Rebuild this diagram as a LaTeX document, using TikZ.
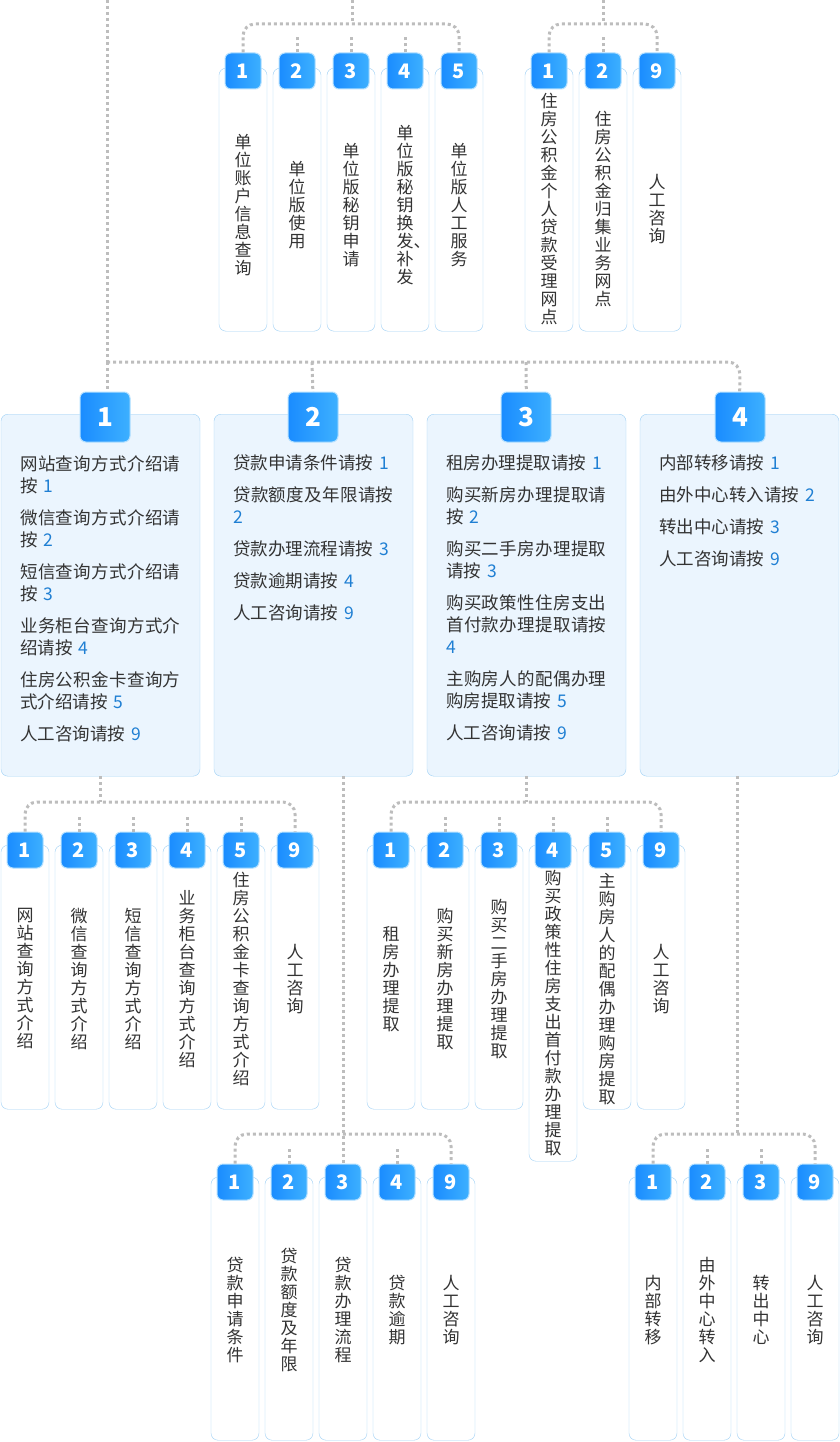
\documentclass[tikz,border=0pt]{standalone}
\usepackage{fontspec}
\setmainfont{Noto Sans CJK SC}
\XeTeXlinebreaklocale "zh"
\XeTeXlinebreakskip=0pt plus 1pt
\usetikzlibrary{positioning}
\definecolor{lineGray}{HTML}{BDBDBD}
\definecolor{boxBorder}{HTML}{9ED0F5}
\definecolor{boxFill}{HTML}{EBF5FE}
\definecolor{badgeL}{HTML}{1A8CFF}
\definecolor{badgeR}{HTML}{3DB0FF}
\definecolor{numBlue}{HTML}{1F7FD3}
\definecolor{txt}{HTML}{333333}
\newcommand{\nb}[1]{\textcolor{numBlue}{#1}}
\begin{document}
\begin{tikzpicture}[x=1pt,y=-1pt,
    link/.style={draw=lineGray,line width=3pt,dash pattern=on 3pt off 3pt,rounded corners=12pt},
    badge/.style={rounded corners=6pt,minimum size=36pt,inner sep=0pt,left color=badgeL,right color=badgeR,
        draw=badgeR!40,line width=1pt,text=white,font=\fontsize{20}{20}\selectfont\bfseries},
    bigbadge/.style={badge,minimum size=50pt,font=\fontsize{26}{26}\selectfont\bfseries},
    col/.style={draw=boxBorder,fill=white,rounded corners=7pt,minimum width=48pt,anchor=north,inner sep=0pt},
    coltext/.style={text width=17pt,align=center,inner sep=0pt,text=txt,font=\fontsize{17}{18}\selectfont},
    mainbox/.style={draw=boxBorder,fill=boxFill,rounded corners=7pt,minimum width=199pt,minimum height=362pt,anchor=north,inner sep=0pt},
    maintext/.style={text width=172pt,align=left,anchor=north west,inner sep=0pt,text=txt,font=\fontsize{17.5}{22}\selectfont}]
    \useasboundingbox (0,0) rectangle (840,1442);

    % trunk and main boxes
    \coordinate (root) at (107,0);
    \coordinate (hub) at (107,362);
    \foreach \n/\x in {1/100.5,2/313.5,3/526.5,4/739.5}{
        \node[mainbox] (m\n) at (\x,414) {};
    }
    \draw[link] (root) -- (hub);
    \draw[link] (hub) -- ++(633,0) -- (m4.north);
    \draw[link] (312,362) -- (m2.north);
    \draw[link] (526,362) -- (m3.north);
    \draw[link] (hub) -- (107,395);
    \foreach \n/\x in {1/105,2/313,3/526,4/740}{
        \node[bigbadge] (mb\n) at (\x,417) {\n};
    }

    % texts of main boxes
    \node[maintext] at (20,455) {网站查询方式介绍请按 \nb{1}\\[10pt]微信查询方式介绍请按 \nb{2}\\[10pt]短信查询方式介绍请按 \nb{3}\\[10pt]业务柜台查询方式介绍请按 \nb{4}\\[10pt]住房公积金卡查询方式介绍请按 \nb{5}\\[10pt]人工咨询请按 \nb{9}};
    \node[maintext] at (233,455) {贷款申请条件请按 \nb{1}\\[10pt]贷款额度及年限请按 \nb{2}\\[10pt]贷款办理流程请按 \nb{3}\\[10pt]贷款逾期请按 \nb{4}\\[10pt]人工咨询请按 \nb{9}};
    \node[maintext] at (446,455) {租房办理提取请按 \nb{1}\\[10pt]购买新房办理提取请按 \nb{2}\\[10pt]购买二手房办理提取请按 \nb{3}\\[10pt]购买政策性住房支出首付款办理提取请按 \nb{4}\\[10pt]主购房人的配偶办理购房提取请按 \nb{5}\\[10pt]人工咨询请按 \nb{9}};
    \node[maintext] at (659,455) {内部转移请按 \nb{1}\\[10pt]由外中心转入请按 \nb{2}\\[10pt]转出中心请按 \nb{3}\\[10pt]人工咨询请按 \nb{9}};

    % group A (top left)
    \foreach \i/\x/\t in {1/243/单位账户信息查询,2/297/单位版使用,3/351/单位版秘钥申请,4/405/单位版秘钥换发、补发,5/459/单位版人工服务}{
        \node[col,minimum height=263pt] (ca\i) at (\x,68) {};
        \node[coltext] at (\x,205) {\t};
        \node[badge] (ba\i) at (\x,71) {\i};
    }
    \coordinate (ta) at (352,0);
    \draw[link] (ta) -- (352,24);
    \draw[link] (ba1.north) -- (243,24) -- (459,24) -- (ba5.north);
    \foreach \i in {2,3,4}{ \draw[link] (ba\i.north) -- ++(0,-16); }

    % group B (top right)
    \foreach \i/\n/\x/\t in {1/1/549/住房公积金个人贷款受理网点,2/2/603/住房公积金归集业务网点,3/9/657/人工咨询}{
        \node[col,minimum height=263pt] (cb\i) at (\x,68) {};
        \node[coltext] at (\x,209) {\t};
        \node[badge] (bb\i) at (\x,71) {\n};
    }
    \coordinate (tb) at (603,0);
    \draw[link] (tb) -- (603,24);
    \draw[link] (bb1.north) -- (549,24) -- (657,24) -- (bb3.north);
    \draw[link] (bb2.north) -- ++(0,-16);

    % group 1
    \foreach \i/\n/\x/\t in {1/1/25/网站查询方式介绍,2/2/79/微信查询方式介绍,3/3/133/短信查询方式介绍,4/4/187/业务柜台查询方式介绍,5/5/241/住房公积金卡查询方式介绍,6/9/295/人工咨询}{
        \node[col,minimum height=264pt] (c1\i) at (\x,845) {};
        \node[coltext] at (\x,979) {\t};
        \node[badge] (b1\i) at (\x,850) {\n};
    }
    \draw[link] (m1.south) -- (100.5,802);
    \draw[link] (b11.north) -- (25,802) -- (295,802) -- (b16.north);
    \foreach \i in {2,...,5}{ \draw[link] (b1\i.north) -- ++(0,-16); }

    % group 3
    \foreach \i/\n/\x/\t/\h/\c in {1/1/391/租房办理提取/264/979,2/2/445/购买新房办理提取/264/979,3/3/499/购买二手房办理提取/264/979,4/4/553/购买政策性住房支出首付款办理提取/316/1013,5/5/607/主购房人的配偶办理购房提取/264/989,6/9/661/人工咨询/264/979}{
        \node[col,minimum height=\h pt] (c3\i) at (\x,845) {};
        \node[coltext] at (\x,\c) {\t};
        \node[badge] (b3\i) at (\x,850) {\n};
    }
    \draw[link] (m3.south) -- (526.5,802);
    \draw[link] (b31.north) -- (391,802) -- (661,802) -- (b36.north);
    \foreach \i in {2,...,5}{ \draw[link] (b3\i.north) -- ++(0,-16); }

    % group 2
    \foreach \i/\n/\x/\t in {1/1/235/贷款申请条件,2/2/289/贷款额度及年限,3/3/343/贷款办理流程,4/4/397/贷款逾期,5/9/451/人工咨询}{
        \node[col,minimum height=263pt] (c2\i) at (\x,1177) {};
        \node[coltext] at (\x,1310) {\t};
        \node[badge] (b2\i) at (\x,1182) {\n};
    }
    \draw[link] (343,776) -- (b23.north);
    \draw[link] (b21.north) -- (235,1134) -- (451,1134) -- (b25.north);
    \foreach \i in {2,4}{ \draw[link] (b2\i.north) -- ++(0,-16); }

    % group 4
    \foreach \i/\n/\x/\t in {1/1/653/内部转移,2/2/707/由外中心转入,3/3/761/转出中心,4/9/815/人工咨询}{
        \node[col,minimum height=263pt] (c4\i) at (\x,1177) {};
        \node[coltext] at (\x,1310) {\t};
        \node[badge] (b4\i) at (\x,1182) {\n};
    }
    \draw[link] (737,776) -- (737,1134);
    \draw[link] (b41.north) -- (653,1134) -- (815,1134) -- (b44.north);
    \foreach \i in {2,3}{ \draw[link] (b4\i.north) -- ++(0,-16); }
\end{tikzpicture}
\end{document}
